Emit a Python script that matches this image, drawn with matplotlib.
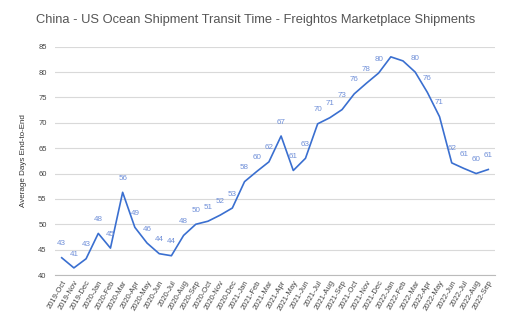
import matplotlib
matplotlib.use("Agg")
import matplotlib.pyplot as plt

plt.rcParams['font.family'] = ['Liberation Sans', 'DejaVu Sans']

# Meses (2019-Oct a 2022-Sep)
meses = ["2019-Oct", "2019-Nov", "2019-Dec",
         "2020-Jan", "2020-Feb", "2020-Mar", "2020-Apr", "2020-May", "2020-Jun",
         "2020-Jul", "2020-Aug", "2020-Sep", "2020-Oct", "2020-Nov", "2020-Dec",
         "2021-Jan", "2021-Feb", "2021-Mar", "2021-Apr", "2021-May", "2021-Jun",
         "2021-Jul", "2021-Aug", "2021-Sep", "2021-Oct", "2021-Nov", "2021-Dec",
         "2022-Jan", "2022-Feb", "2022-Mar", "2022-Apr", "2022-May", "2022-Jun",
         "2022-Jul", "2022-Aug", "2022-Sep"]

# Días promedio de tránsito
dias = [43.4, 41.4, 43.2,
        48.2, 45.3, 56.3, 49.4, 46.3, 44.2,
        43.8, 47.8, 50.0, 50.6, 51.8, 53.2,
        58.4, 60.4, 62.3, 67.4, 60.6, 63.0,
        69.8, 71.0, 72.6, 75.7, 77.8, 79.8,
        83.0, 82.2, 80.0, 76.0, 71.2, 62.1,
        61.0, 60.0, 60.8]

# Puntos sin etiqueta en el gráfico original
sin_etiqueta = ["2022-Jan", "2022-Feb"]

linea = "#3a6fd0"
texto_etiqueta = "#6f8fd8"

fig = plt.figure(figsize=(5.12, 3.27), dpi=100)
ax = fig.add_axes([55 / 512, 1 - 275 / 327, 440 / 512, (275 - 46.7) / 327])

x = list(range(len(meses)))
ax.plot(x, dias, color=linea, linewidth=1.2, zorder=3)

for i, (m, v) in enumerate(zip(meses, dias)):
    if m in sin_etiqueta:
        continue
    ax.annotate(str(round(v)), (i, v), xytext=(0, 10), textcoords="offset points",
                ha="center", va="center", fontsize=5.8, color=texto_etiqueta)

ax.set_xlim(-0.55, len(meses) - 0.45)
ax.set_ylim(40, 85)
ax.set_yticks(range(40, 86, 5))
ax.set_xticks(x)
ax.set_xticklabels(meses, rotation=60, ha="right", rotation_mode="anchor",
                   fontsize=5.5, color="#444444")
ax.tick_params(axis="y", labelsize=5.5, labelcolor="#444444", length=0, pad=6)
ax.tick_params(axis="x", length=0, pad=3)

ax.grid(axis="y", color="#d9d9d9", linewidth=0.8)
for s in ["top", "right", "left"]:
    ax.spines[s].set_visible(False)
ax.spines["bottom"].set_color("#bbbbbb")
ax.spines["bottom"].set_linewidth(0.8)

ax.set_ylabel("Average Days End-to-End", fontsize=5.8, color="#333333", labelpad=8)

fig.text(0.5, 1 - 20 / 327, "China - US Ocean Shipment Transit Time - Freightos Marketplace Shipments",
         ha="center", va="center", fontsize=9.3, color="#555555")

fig.savefig("out.png", dpi=100)
